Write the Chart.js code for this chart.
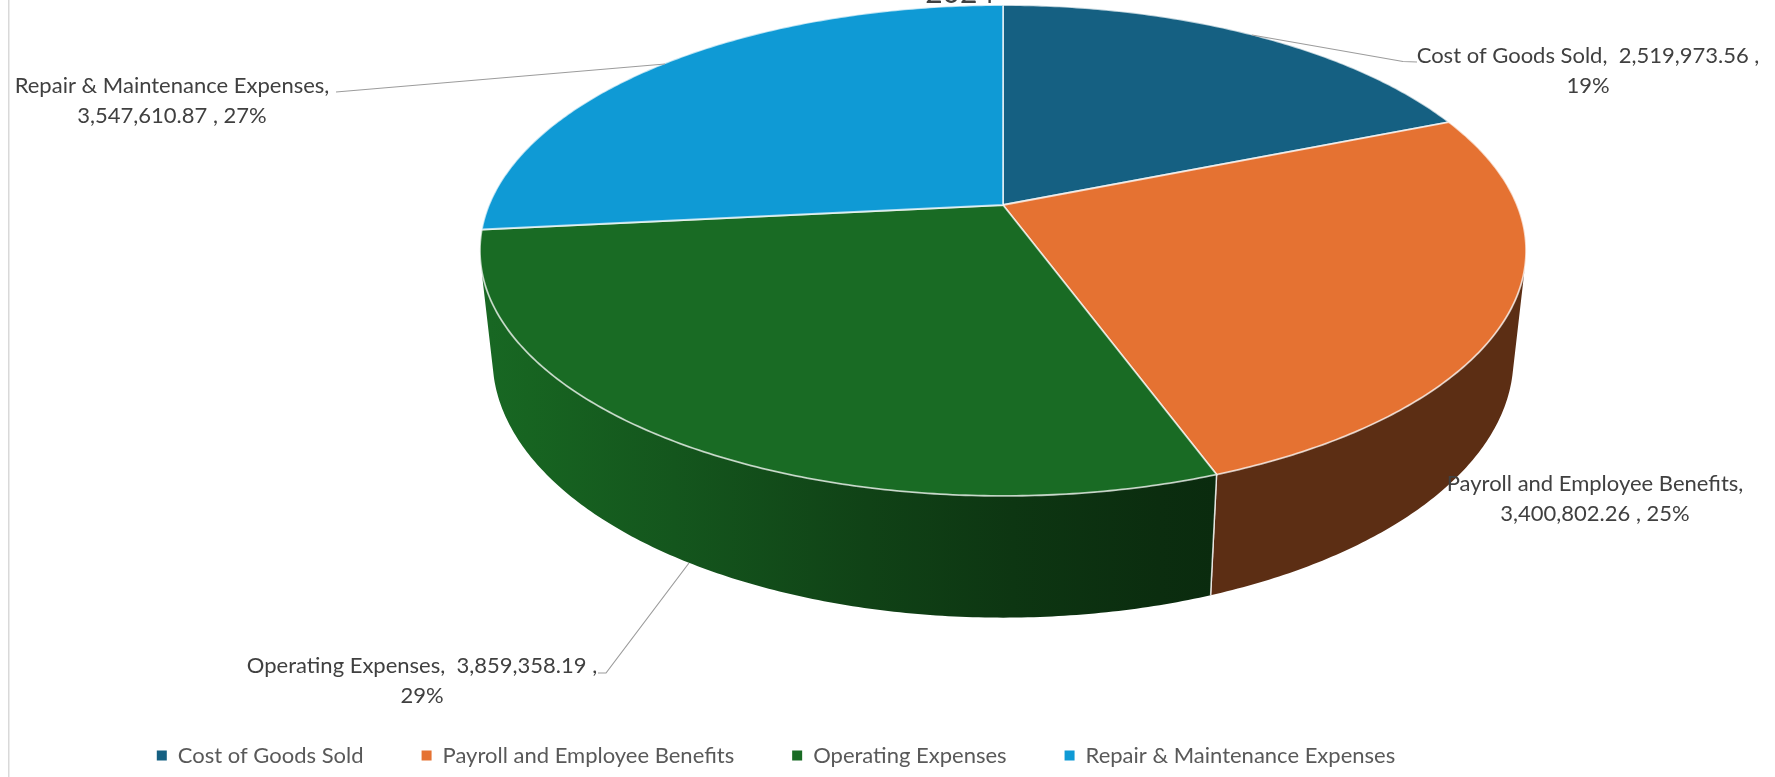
<!DOCTYPE html>
<html>
<head>
<meta charset="utf-8">
<title>Expenses 2024</title>
<script src="https://cdn.jsdelivr.net/npm/chart.js@4/dist/chart.umd.js"></script>
<style>
    html, body { margin: 0; padding: 0; background: #ffffff; overflow: hidden; }
    canvas { display: block; }
</style>
</head>
<body>
<canvas id="expenseChart" width="1775" height="777"></canvas>
<script>
const categories = ['Cost of Goods Sold', 'Payroll and Employee Benefits', 'Operating Expenses', 'Repair & Maintenance Expenses']
const amounts = [2519973.56, 3400802.26, 3859358.19, 3547610.87]
const percentLabels = ['19%', '25%', '29%', '27%']
const titleText = '2024'

const sliceColors = ['#156082', '#E57232', '#196B24', '#0F9AD5']

const FONT = 'Lato, Carlito, sans-serif'

// perspective of the tilted disc
const disc = { x: 1003, y: 205, a: 514, b: 237, tilt: -0.1853, drop: 109, recede: 0.0238 }

// side wall darkens from left to right: [screen x, brightness]
const sideShade = [[490, 0.96], [528, 0.93], [674, 0.8], [868, 0.62], [1013, 0.5], [1160, 0.42], [1217, 0.4]]

// data label placement, index follows categories
const labelSpots = [
    { x: 1588, y: 63, breakAfterName: false },
    { x: 1595, y: 490.5, breakAfterName: true },
    { x: 422, y: 672.5, breakAfterName: false },
    { x: 172, y: 93, breakAfterName: true }
]
const leaderLines = [
    [[1417, 62], [1403, 61.5], [1252, 35]],
    null,
    [[598, 673], [606, 673], [689, 563]],
    [[336, 92], [665, 64]]
]

function project(angle, depth) {
    let u = Math.cos(angle)
    let v = Math.sin(angle)
    let w = 1 + disc.tilt * v + disc.recede * depth
    return {
        x: disc.x + disc.a * u / w,
        y: disc.y + (disc.b * v + disc.drop * depth) / w
    }
}

function shadeColor(hex, f) {
    let n = parseInt(hex.slice(1), 16)
    let r = Math.round((n >> 16 & 255) * f)
    let g = Math.round((n >> 8 & 255) * f)
    let b = Math.round((n & 255) * f)
    return `rgb(${r}, ${g}, ${b})`
}

// the wall faces the viewer when walking clockwise along the rim turns against the drop
function facesViewer(angle) {
    let p0 = project(angle, 0)
    let p1 = project(angle + 0.005, 0)
    let b0 = project(angle, 1)
    return (p1.x - p0.x) * (b0.y - p0.y) - (p1.y - p0.y) * (b0.x - p0.x) < 0
}

class TiltedArc extends Chart.ArcElement {
    static id = 'tiltedArc'

    draw(ctx) {
        let start = this.startAngle
        let end = this.endAngle
        let color = this.options.backgroundColor
        let steps = Math.ceil((end - start) / 0.01)
        let angles = []
        for (let i = 0; i <= steps; i++) {
            angles.push(start + (end - start) * i / steps)
        }

        // side wall
        let front = angles.filter(facesViewer)
        if (front.length > 1) {
            let grad = ctx.createLinearGradient(sideShade[0][0], 0, sideShade[sideShade.length - 1][0], 0)
            let span = sideShade[sideShade.length - 1][0] - sideShade[0][0]
            sideShade.forEach(s => grad.addColorStop((s[0] - sideShade[0][0]) / span, shadeColor(color, s[1])))

            ctx.beginPath()
            front.forEach((a, i) => {
                let p = project(a, 0)
                if (i == 0) ctx.moveTo(p.x, p.y)
                else ctx.lineTo(p.x, p.y)
            })
            front.slice().reverse().forEach(a => {
                let p = project(a, 1)
                ctx.lineTo(p.x, p.y)
            })
            ctx.closePath()
            ctx.fillStyle = grad
            ctx.fill()

            // vertical seams between slices
            ctx.strokeStyle = 'rgba(255, 255, 255, 0.75)'
            ctx.lineWidth = 1.5
            ;[start, end].forEach(a => {
                if (facesViewer(a)) {
                    let t = project(a, 0)
                    let b = project(a, 1)
                    ctx.beginPath()
                    ctx.moveTo(t.x, t.y)
                    ctx.lineTo(b.x, b.y)
                    ctx.stroke()
                }
            })
        }

        // top face
        ctx.beginPath()
        ctx.moveTo(disc.x, disc.y)
        angles.forEach(a => {
            let p = project(a, 0)
            ctx.lineTo(p.x, p.y)
        })
        ctx.closePath()
        ctx.fillStyle = color
        ctx.fill()
        ctx.strokeStyle = 'rgba(255, 255, 255, 0.7)'
        ctx.lineWidth = 1.8
        ctx.lineJoin = 'round'
        ctx.stroke()
    }
}

class TiltedPieController extends Chart.PieController {
    static id = 'tiltedPie'
    static defaults = { dataElementType: 'tiltedArc' }
}

Chart.register(TiltedArc, TiltedPieController)

function labelLines(i) {
    let amount = amounts[i].toLocaleString('en-US', { minimumFractionDigits: 2, maximumFractionDigits: 2 })
    if (labelSpots[i].breakAfterName) {
        return [categories[i] + ',', amount + ' , ' + percentLabels[i]]
    }
    return [categories[i] + ',  ' + amount + ' ,', percentLabels[i]]
}

const chartDecor = {
    id: 'chartDecor',
    afterLayout(chart) {
        // legend row sits low and left of the canvas centre
        let legend = chart.legend
        legend.top = 756.5 - legend.options.labels.padding - 12
        legend.left = 0
        legend.right = 1552
    },
    beforeDraw(chart) {
        let ctx = chart.ctx
        ctx.fillStyle = '#d9d9d9'
        ctx.fillRect(8, 0, 1.5, 777)
    },
    afterDatasetsDraw(chart) {
        let ctx = chart.ctx
        ctx.save()

        // leader lines
        ctx.strokeStyle = '#9c9c9c'
        ctx.lineWidth = 1.2
        leaderLines.forEach(line => {
            if (!line) return
            ctx.beginPath()
            line.forEach((p, i) => {
                if (i == 0) ctx.moveTo(p[0], p[1])
                else ctx.lineTo(p[0], p[1])
            })
            ctx.stroke()
        })

        // data labels
        ctx.fillStyle = '#404040'
        ctx.font = '22px ' + FONT
        ctx.textAlign = 'center'
        ctx.textBaseline = 'alphabetic'
        labelSpots.forEach((spot, i) => {
            labelLines(i).forEach((text, n) => {
                ctx.fillText(text, spot.x, spot.y + n * 30)
            })
        })

        // title is cut off by the top edge
        ctx.font = '30px ' + FONT
        ctx.fillText(titleText, 960, 3)
        ctx.restore()
    }
}

let chart = new Chart(document.getElementById('expenseChart'), {
    type: 'tiltedPie',
    data: {
        labels: categories,
        datasets: [{
            data: amounts,
            backgroundColor: sliceColors,
            borderWidth: 0,
            clip: false
        }]
    },
    options: {
        responsive: false,
        animation: false,
        events: [],
        plugins: {
            legend: {
                position: 'bottom',
                labels: {
                    boxWidth: 10,
                    boxHeight: 10,
                    padding: 58,
                    color: '#595959',
                    font: { family: FONT, size: 22 }
                }
            },
            tooltip: { enabled: false }
        }
    },
    plugins: [chartDecor]
})
</script>
</body>
</html>
